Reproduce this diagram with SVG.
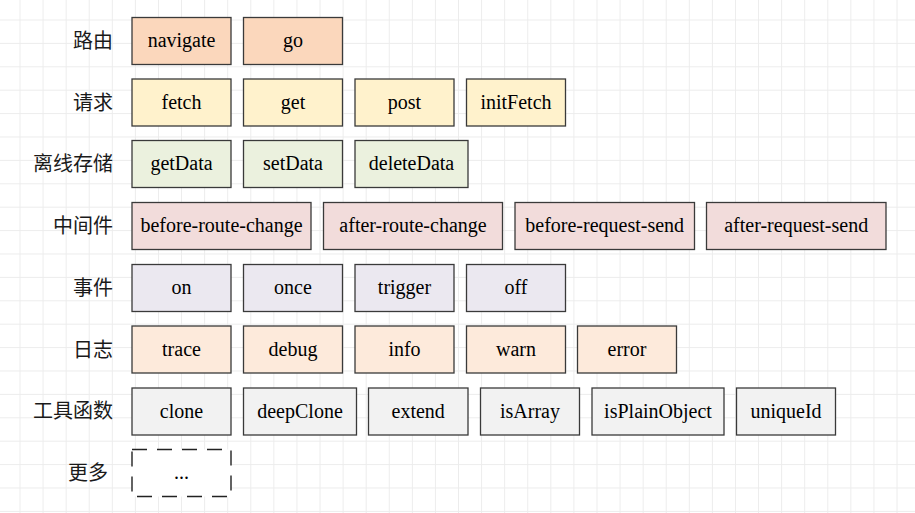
<svg xmlns="http://www.w3.org/2000/svg" width="915" height="513" viewBox="0 0 915 513">
<defs>
<pattern id="grid" patternUnits="userSpaceOnUse" x="19.5" y="19.5" width="23.08" height="23.4">
<path d="M0 0.5H23.08M0.5 0V23.4" fill="none" stroke="#ececec" stroke-width="1"/>
</pattern>
<style>
.lbl{font-family:"Noto Sans CJK SC","Noto Sans",sans-serif;font-size:20px;fill:#1a1a1a;text-anchor:end}
.t{font-family:"Liberation Serif","Times New Roman",serif;font-size:20px;fill:#000;text-anchor:middle}
rect.b{stroke:#3a3a3a;stroke-width:1.3}
.route{fill:#fbd7bc}
.req{fill:#fff2cc}
.off{fill:#ebf1de}
.mid{fill:#f2dcdb}
.evt{fill:#ebe8f0}
.log{fill:#fdeadb}
.tool{fill:#f2f2f2}
.more{fill:#fff;stroke:#222;stroke-width:1.4;stroke-dasharray:15 10}
</style>
</defs>
<rect width="915" height="513" fill="#fff"/>
<rect width="915" height="513" fill="url(#grid)"/>

<g id="labels">
<text class="lbl" x="113" y="48">路由</text>
<text class="lbl" x="113" y="109.5">请求</text>
<text class="lbl" x="113" y="171">离线存储</text>
<text class="lbl" x="113" y="233">中间件</text>
<text class="lbl" x="113" y="295">事件</text>
<text class="lbl" x="113" y="356.5">日志</text>
<text class="lbl" x="113" y="418">工具函数</text>
<text class="lbl" x="108" y="480">更多</text>
</g>

<g id="row-route">
<g id="navigate"><rect class="b route" x="132" y="17.5" width="99" height="47"/><text class="t" x="181.5" y="47">navigate</text></g>
<g id="go"><rect class="b route" x="243.5" y="17.5" width="99" height="47"/><text class="t" x="293" y="47">go</text></g>
</g>

<g id="row-request">
<g id="fetch"><rect class="b req" x="132" y="79" width="99" height="47"/><text class="t" x="181.5" y="108.5">fetch</text></g>
<g id="get"><rect class="b req" x="243.5" y="79" width="99" height="47"/><text class="t" x="293" y="108.5">get</text></g>
<g id="post"><rect class="b req" x="355" y="79" width="99" height="47"/><text class="t" x="404.5" y="108.5">post</text></g>
<g id="initFetch"><rect class="b req" x="466.5" y="79" width="99" height="47"/><text class="t" x="516" y="108.5">initFetch</text></g>
</g>

<g id="row-offline">
<g id="getData"><rect class="b off" x="132" y="140.5" width="99" height="47"/><text class="t" x="181.5" y="170">getData</text></g>
<g id="setData"><rect class="b off" x="243.5" y="140.5" width="99" height="47"/><text class="t" x="293" y="170">setData</text></g>
<g id="deleteData"><rect class="b off" x="355" y="140.5" width="113" height="47"/><text class="t" x="411.5" y="170">deleteData</text></g>
</g>

<g id="row-middleware">
<g id="before-route-change"><rect class="b mid" x="132" y="202.5" width="179" height="47"/><text class="t" x="221.5" y="232">before-route-change</text></g>
<g id="after-route-change"><rect class="b mid" x="323.5" y="202.5" width="179" height="47"/><text class="t" x="413" y="232">after-route-change</text></g>
<g id="before-request-send"><rect class="b mid" x="515" y="202.5" width="179.5" height="47"/><text class="t" x="604.7" y="232">before-request-send</text></g>
<g id="after-request-send"><rect class="b mid" x="706.5" y="202.5" width="179.5" height="47"/><text class="t" x="796.2" y="232">after-request-send</text></g>
</g>

<g id="row-event">
<g id="on"><rect class="b evt" x="132" y="264.5" width="99" height="47"/><text class="t" x="181.5" y="294">on</text></g>
<g id="once"><rect class="b evt" x="243.5" y="264.5" width="99" height="47"/><text class="t" x="293" y="294">once</text></g>
<g id="trigger"><rect class="b evt" x="355" y="264.5" width="99" height="47"/><text class="t" x="404.5" y="294">trigger</text></g>
<g id="off"><rect class="b evt" x="466.5" y="264.5" width="99" height="47"/><text class="t" x="516" y="294">off</text></g>
</g>

<g id="row-log">
<g id="trace"><rect class="b log" x="132" y="326" width="99" height="47"/><text class="t" x="181.5" y="355.5">trace</text></g>
<g id="debug"><rect class="b log" x="243.5" y="326" width="99" height="47"/><text class="t" x="293" y="355.5">debug</text></g>
<g id="info"><rect class="b log" x="355" y="326" width="99" height="47"/><text class="t" x="404.5" y="355.5">info</text></g>
<g id="warn"><rect class="b log" x="466.5" y="326" width="99" height="47"/><text class="t" x="516" y="355.5">warn</text></g>
<g id="error"><rect class="b log" x="577.5" y="326" width="99" height="47"/><text class="t" x="627" y="355.5">error</text></g>
</g>

<g id="row-tools">
<g id="clone"><rect class="b tool" x="132" y="388" width="99" height="47"/><text class="t" x="181.5" y="417.5">clone</text></g>
<g id="deepClone"><rect class="b tool" x="243.5" y="388" width="113" height="47"/><text class="t" x="300" y="417.5">deepClone</text></g>
<g id="extend"><rect class="b tool" x="368.5" y="388" width="99.5" height="47"/><text class="t" x="418.2" y="417.5">extend</text></g>
<g id="isArray"><rect class="b tool" x="480.5" y="388" width="99" height="47"/><text class="t" x="530" y="417.5">isArray</text></g>
<g id="isPlainObject"><rect class="b tool" x="592" y="388" width="132" height="47"/><text class="t" x="658" y="417.5">isPlainObject</text></g>
<g id="uniqueId"><rect class="b tool" x="736.5" y="388" width="99" height="47"/><text class="t" x="786" y="417.5">uniqueId</text></g>
</g>

<g id="row-more">
<g id="more"><rect class="more" x="132" y="449.5" width="99" height="47"/><text class="t" x="181.5" y="479">...</text></g>
</g>

<g id="connectors"></g>
</svg>
